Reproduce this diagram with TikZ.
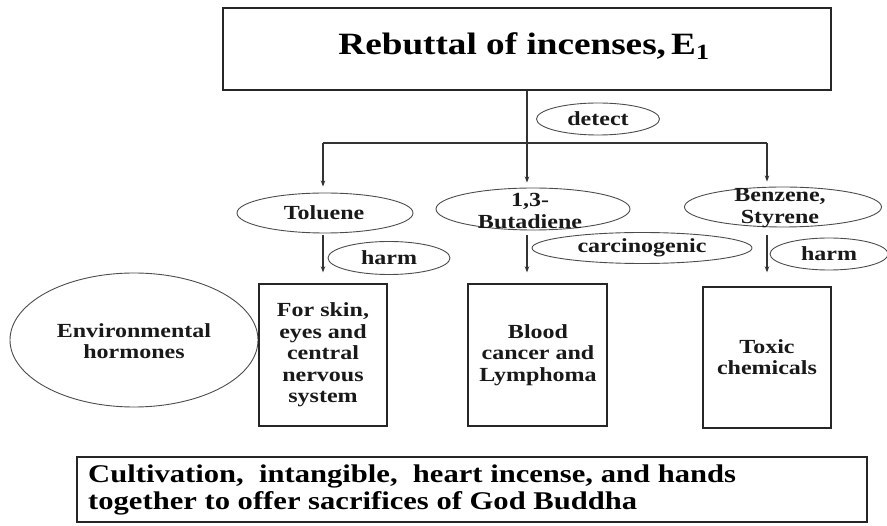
\documentclass[tikz,border=0pt]{standalone}
\usepackage{fontspec}
\setmainfont{Liberation Serif}[FakeStretch=1.2]
\usetikzlibrary{shapes.geometric,arrows.meta}
\begin{document}
\begin{tikzpicture}[x=1pt,y=-1pt,
  boxline/.style={draw=black!85,line width=1.3pt},
  rbox/.style={boxline,inner sep=0pt},
  oval/.style={ellipse,draw=black!70,line width=0.9pt,inner sep=0pt},
  lbl/.style={font=\bfseries\fontsize{20}{21.5}\selectfont,align=center,inner sep=0pt,text=black!90},
  arr/.style={draw=black!80,line width=1.1pt,-{Stealth[length=6pt,width=4.5pt]}},
  conn/.style={draw=black!80,line width=1.1pt}]
\useasboundingbox (0,0) rectangle (887,526);
% title box
\node[rbox,minimum width=608pt,minimum height=82pt] (top) at (527,49) {};
\node[font=\bfseries\fontsize{31}{33}\selectfont,inner sep=0pt] (title) at (524,46) {Rebuttal of incenses,\,E\textsubscript{1}};
% detect
\node[oval,minimum width=123pt,minimum height=32pt] (det) at (598,119) {};
\node[lbl] (dett) at (det.center) {detect};
% level 2 ellipses
\node[oval,minimum width=176pt,minimum height=40pt] (tol) at (325,213) {};
\node[lbl] (tolt) at (324,213) {Toluene};
\node[oval,minimum width=194pt,minimum height=42pt] (bt) at (533,209) {};
\node[lbl] (btt) at (530,211) {1,3-\\Butadiene};
\node[oval,minimum width=197pt,minimum height=40pt] (bz) at (783,207) {};
\node[lbl] (bzt) at (780,208) {Benzene,\\Styrene};
% relation ellipses
\node[oval,minimum width=122pt,minimum height=33pt] (h1) at (389,258) {};
\node[lbl] (h1t) at (h1.center) {harm};
\node[oval,minimum width=220pt,minimum height=31pt] (car) at (642,248) {};
\node[lbl] (cart) at (car.center) {carcinogenic};
\node[oval,minimum width=118pt,minimum height=32pt] (h2) at (829,254) {};
\node[lbl] (h2t) at (h2.center) {harm};
% level 3
\node[oval,minimum width=248pt,minimum height=134pt] (env) at (134,340) {};
\node[lbl] (envt) at (134,341) {Environmental\\hormones};
\node[rbox,minimum width=128pt,minimum height=142pt] (skin) at (323,355) {};
\node[lbl] (skint) at (323,355) {For skin,\\eyes and\\central\\nervous\\system};
\node[rbox,minimum width=139pt,minimum height=142pt] (blood) at (537.5,355) {};
\node[lbl] (bloodt) at (538,355) {Blood\\cancer and\\Lymphoma};
\node[rbox,minimum width=128pt,minimum height=141pt] (tox) at (767,357.5) {};
\node[lbl] (toxt) at (767,357) {Toxic\\chemicals};
% bottom box
\node[rbox,minimum width=790pt,minimum height=65pt] (bot) at (472,489.5) {};
\node[font=\bfseries\fontsize{25.5}{27.5}\selectfont,align=left,anchor=west,inner sep=0pt] (bott) at (88,490) {Cultivation,\ \ intangible,\ \ heart incense, and\ hands\\together to offer sacrifices of God Buddha};
% connectors
\coordinate (jl) at (323,143);
\coordinate (jr) at (767,143);
\draw[conn] (jl) -- (jr);
\draw[arr,shorten >=5pt] (top.south) -- (top.south |- bt.north);
\draw[arr,shorten >=6pt] (jl) -- (jl |- tol.north);
\draw[arr,shorten >=5pt] (jr) -- (jr |- bz.north);
\draw[arr,shorten <=2pt,shorten >=11pt] (skin.north |- tol.south) -- (skin.north);
\draw[arr,shorten <=5pt,shorten >=11pt] (top.south |- bt.south) -- (top.south |- blood.north);
\draw[arr,shorten <=8pt,shorten >=14pt] (tox.north |- bz.south) -- (tox.north);
\end{tikzpicture}
\end{document}
